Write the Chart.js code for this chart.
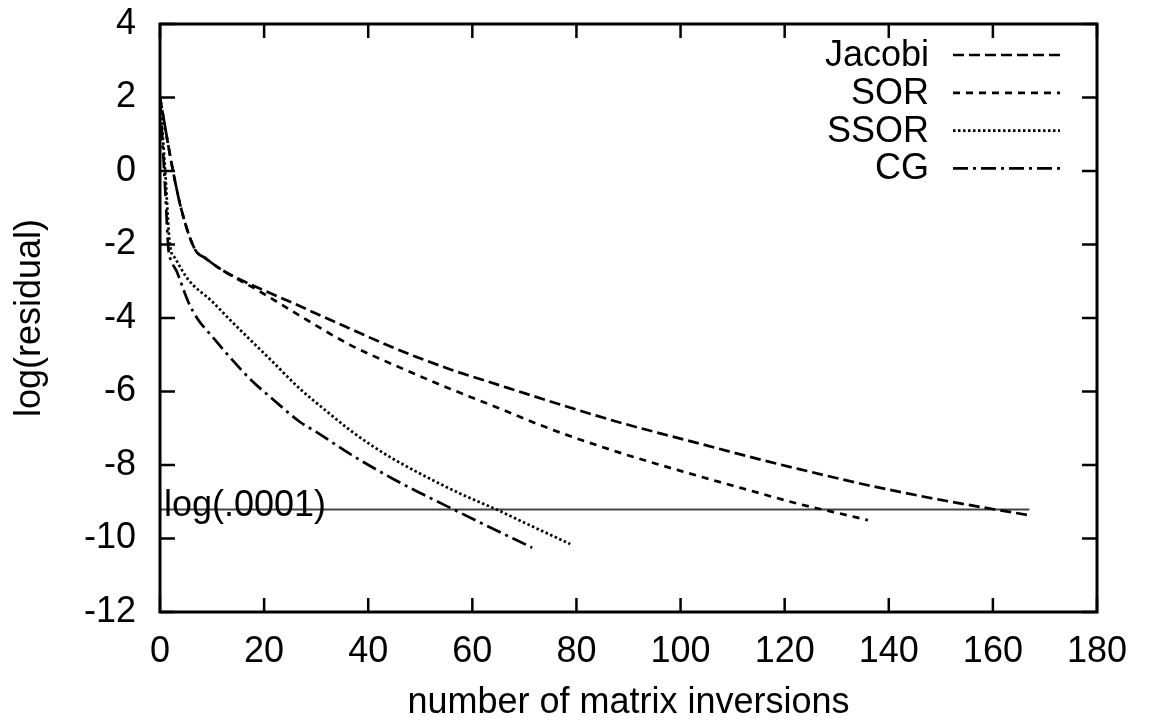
<!DOCTYPE html>
<html>
<head>
<meta charset="utf-8">
<script src="https://cdn.jsdelivr.net/npm/chart.js@4.4.1/dist/chart.umd.min.js"></script>
<style>
  html, body { margin: 0; padding: 0; background: #fff; }
</style>
</head>
<body>
<canvas id="myChart" width="1152" height="726"></canvas>
<script>
// values
const jacobiX = [0, 2.5, 4.2, 6.7, 8.7, 12, 17, 25, 36.5, 45, 55.8, 65, 75, 88, 104, 115, 123, 136, 150, 166.7];
const jacobiY = [2, 0, -1.1, -2.13, -2.37, -2.7, -3.06, -3.56, -4.29, -4.82, -5.4, -5.82, -6.27, -6.83, -7.43, -7.84, -8.12, -8.55, -8.95, -9.36];

const sorX = [0, 2.5, 4.2, 6.7, 8.7, 12, 19.2, 27, 36.5, 45, 55.8, 65, 75, 88, 100, 112, 123, 130, 136];
const sorY = [2, 0, -1.1, -2.13, -2.37, -2.7, -3.28, -3.95, -4.73, -5.28, -5.93, -6.45, -7.02, -7.65, -8.16, -8.64, -9.07, -9.3, -9.5];

const ssorX = [0, 1, 1.9, 2.9, 5.4, 10, 13.8, 17.3, 21, 26.9, 31, 36.5, 41, 45, 52.5, 58, 64.8, 70, 78.8];
const ssorY = [2, 0, -2, -2.37, -2.95, -3.55, -4.1, -4.59, -5.1, -5.93, -6.42, -7.05, -7.5, -7.85, -8.42, -8.8, -9.22, -9.57, -10.15];

const cgX = [0, 1, 1.6, 2.2, 3.2, 5.4, 7.3, 10, 13, 17.3, 22, 26.9, 30, 36.5, 39.8, 44.8, 49.4, 56.4, 62, 71.5];
const cgY = [2, -0.5, -2.09, -2.45, -2.73, -3.55, -4.04, -4.5, -5.0, -5.66, -6.25, -6.83, -7.1, -7.7, -7.98, -8.38, -8.72, -9.21, -9.6, -10.25];

const refX = [0, 167];
const refY = [-9.21, -9.21];
const refLabel = "log(.0001)";

const xTicks = [0, 20, 40, 60, 80, 100, 120, 140, 160, 180];
const yTicks = [4, 2, 0, -2, -4, -6, -8, -10, -12];

const FONT = '"Liberation Sans", Arial, Helvetica, sans-serif';
const FSIZE = 36;

function pts(xs, ys) {
  return xs.map((x, i) => ({ x: x, y: ys[i] }));
}

function series(label, xs, ys, dash) {
  return {
    label: label,
    data: pts(xs, ys),
    showLine: true,
    borderColor: '#000',
    borderWidth: 2.7,
    borderDash: dash,
    pointRadius: 0,
    cubicInterpolationMode: 'monotone',
    fill: false
  };
}

// frame with inward ticks, reference label, and the gnuplot-style legend
const decorations = {
  id: 'decorations',
  afterDatasetsDraw(chart) {
    const ctx = chart.ctx;
    const a = chart.chartArea;
    const xs = chart.scales.x, ys = chart.scales.y;
    ctx.save();
    ctx.strokeStyle = '#000';
    ctx.setLineDash([]);
    ctx.lineWidth = 3;
    ctx.strokeRect(a.left, a.top, a.right - a.left, a.bottom - a.top);

    ctx.lineWidth = 2.5;
    ctx.beginPath();
    xTicks.forEach(v => {
      const px = xs.getPixelForValue(v);
      ctx.moveTo(px, a.bottom); ctx.lineTo(px, a.bottom - 14);
      ctx.moveTo(px, a.top); ctx.lineTo(px, a.top + 14);
    });
    yTicks.forEach(v => {
      const py = ys.getPixelForValue(v);
      ctx.moveTo(a.left, py); ctx.lineTo(a.left + 15, py);
      ctx.moveTo(a.right, py); ctx.lineTo(a.right - 15, py);
    });
    ctx.stroke();

    ctx.fillStyle = '#000';
    ctx.font = FSIZE + 'px ' + FONT;
    ctx.textAlign = 'left';
    ctx.textBaseline = 'alphabetic';
    ctx.fillText(refLabel, xs.getPixelForValue(refX[0]) + 4, ys.getPixelForValue(refY[0]) + 7);

    // legend: text right aligned, line sample on the right
    const items = chart.data.datasets.filter(d => d.label);
    ctx.textAlign = 'right';
    ctx.textBaseline = 'middle';
    items.forEach((d, i) => {
      const cy = 55 + i * 37.8;
      ctx.fillText(d.label, 929, cy + 1);
      ctx.lineWidth = d.borderWidth;
      ctx.setLineDash(d.borderDash || []);
      ctx.beginPath();
      ctx.moveTo(953, cy);
      ctx.lineTo(1060, cy);
      ctx.stroke();
    });
    ctx.restore();
  }
};

const ctx = document.getElementById('myChart').getContext('2d');
new Chart(ctx, {
  type: 'scatter',
  data: {
    datasets: [
      series('Jacobi', jacobiX, jacobiY, [11, 5]),
      series('SOR', sorX, sorY, [7, 6]),
      series('SSOR', ssorX, ssorY, [2.5, 2.5]),
      series('CG', cgX, cgY, [15, 5, 3, 5]),
      {
        label: '',
        data: pts(refX, refY),
        showLine: true,
        borderColor: '#444',
        borderWidth: 2,
        pointRadius: 0,
        fill: false
      }
    ]
  },
  options: {
    responsive: false,
    animation: false,
    devicePixelRatio: 1,
    layout: { padding: { top: 24, right: 55, left: 0, bottom: 0 } },
    plugins: {
      legend: { display: false },
      tooltip: { enabled: false }
    },
    scales: {
      x: {
        type: 'linear',
        min: 0, max: 180,
        afterFit: s => { s.height = 114; s.paddingLeft = 0; s.paddingRight = 0; },
        afterBuildTicks: s => { s.ticks = xTicks.map(v => ({ value: v })); },
        grid: { display: false, drawTicks: false },
        border: { display: false },
        ticks: { color: '#000', padding: 18, font: { family: FONT, size: FSIZE } },
        title: {
          display: true,
          text: 'number of matrix inversions',
          color: '#000',
          padding: { top: 0, bottom: 1 },
          font: { family: FONT, size: FSIZE }
        }
      },
      y: {
        type: 'linear',
        min: -12, max: 4,
        afterFit: s => { s.width = 160; s.paddingTop = 0; s.paddingBottom = 0; },
        afterBuildTicks: s => { s.ticks = yTicks.map(v => ({ value: v })); },
        grid: { display: false, drawTicks: false },
        border: { display: false },
        ticks: { color: '#000', padding: 24, font: { family: FONT, size: FSIZE } },
        title: {
          display: true,
          text: 'log(residual)',
          color: '#000',
          padding: { top: 8, bottom: 0 },
          font: { family: FONT, size: FSIZE }
        }
      }
    }
  },
  plugins: [decorations]
});
</script>
</body>
</html>
